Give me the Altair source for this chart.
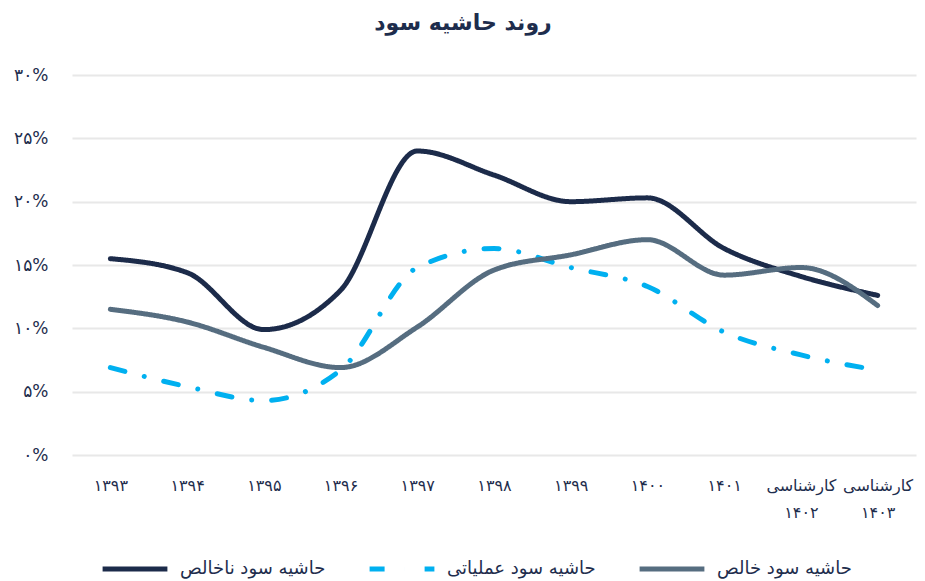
import altair as alt
import pandas as pd

title_text = "روند حاشیه سود"
series_names = ["حاشیه سود ناخالص", "حاشیه سود عملیاتی", "حاشیه سود خالص"]
years = ["۱۳۹۳", "۱۳۹۴", "۱۳۹۵", "۱۳۹۶", "۱۳۹۷", "۱۳۹۸", "۱۳۹۹", "۱۴۰۰", "۱۴۰۱",
         "کارشناسی\n۱۴۰۲", "کارشناسی\n۱۴۰۳"]
gross = [15.5, 14.4, 9.9, 13.0, 24.0, 22.1, 20.0, 20.3, 16.3, 14.1, 12.6]
operating = [6.9, 5.4, 4.3, 6.7, 14.8, 16.3, 14.8, 13.3, 9.7, 7.9, 6.7]
net = [11.5, 10.5, 8.5, 6.9, 10.1, 14.6, 15.8, 17.0, 14.2, 14.8, 11.8]
y_ticks = [0, 5, 10, 15, 20, 25, 30]
y_tick_labels = ["۰%", "۵%", "۱۰%", "۱۵%", "۲۰%", "۲۵%", "۳۰%"]

colors = ["#1c2b4a", "#00b0f0", "#566d80"]
dashes = [[1, 0], [15, 20, 0.01, 20], [1, 0]]
text_color = "#1e2d4d"
font = "DejaVu Sans"

rows = []
for name, vals in zip(series_names, [gross, operating, net]):
    for i, (yr, v) in enumerate(zip(years, vals)):
        rows.append({"year": yr, "value": v, "series": name, "order": i})
df = pd.DataFrame(rows)

label_expr = " : ".join(
    f"datum.value == {t} ? '{l}'" for t, l in zip(y_ticks, y_tick_labels)
) + " : ''"

legend_kw = dict(title=None, orient="none", direction="horizontal",
                 legendX=28, legendY=459,
                 symbolType="stroke", symbolSize=4200,
                 symbolStrokeWidth=5, labelFontSize=18,
                 labelColor=text_color, labelFont=font,
                 labelOffset=10, columnPadding=33)

chart = alt.Chart(df).mark_line(
    interpolate="monotone", strokeWidth=5, strokeCap="round", strokeJoin="round"
).encode(
    x=alt.X("year:N", sort=years, title=None,
            scale=alt.Scale(type="point", domain=years, padding=0.5),
            axis=alt.Axis(labelAngle=0, labelExpr="split(datum.label, '\\n')",
                          labelFontSize=16, labelColor=text_color, labelFont=font,
                          labelPadding=22, labelLineHeight=27, domain=False, ticks=False,
                          grid=False)),
    y=alt.Y("value:Q", title=None,
            scale=alt.Scale(domain=[0, 30], nice=False),
            axis=alt.Axis(values=y_ticks, labelExpr=label_expr, labelFontSize=17,
                          labelColor=text_color, labelFont=font, labelPadding=24,
                          domain=False, ticks=False, gridColor="#e8e8e8",
                          gridWidth=2)),
    color=alt.Color("series:N", sort=series_names,
                    scale=alt.Scale(domain=series_names, range=colors),
                    legend=alt.Legend(**legend_kw)),
    strokeDash=alt.StrokeDash("series:N", sort=series_names,
                              scale=alt.Scale(domain=series_names, range=dashes),
                              legend=alt.Legend(**legend_kw)),
    order="order:Q",
).properties(
    width=844, height=380,
    autosize=alt.AutoSizeParams(type="none"),
    padding={"left": 64, "top": 67, "right": 1, "bottom": 125},
    title=alt.TitleParams(title_text, fontSize=22, font=font, fontWeight="bold",
                          color=text_color, anchor="middle", dx=-31, offset=31),
).configure_view(stroke=None)

chart.save("out.html", embed_options={"renderer": "svg", "actions": False})
